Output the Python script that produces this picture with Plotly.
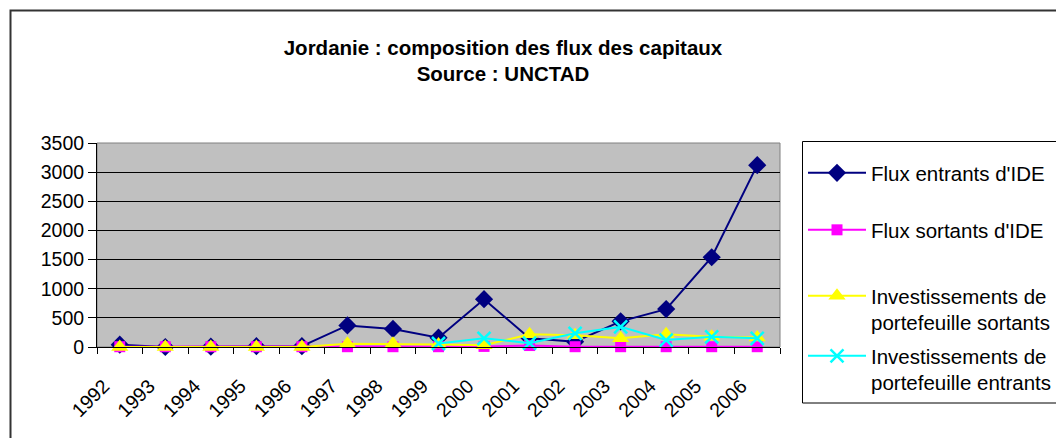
import plotly.graph_objects as go

years = [str(y) for y in range(1992, 2007)]

ide_entrants = [40, 0, 5, 15, 15, 370, 310, 160, 820, 150, 90, 440, 650, 1540, 3120]
ide_sortants = [5, 5, 5, 5, 5, 5, 5, 5, 10, 25, 5, 5, 5, 5, 5]
pf_sortants = [0, 0, 0, 0, 0, 55, 55, 45, 30, 220, 200, 150, 220, 175, 165]
pf_entrants = [None, None, None, None, None, None, None, 60, 150, 65, 235, 345, 120, 175, 150]

names = [
    "Flux entrants d'IDE",
    "Flux sortants d'IDE",
    "Investissements de<br>portefeuille sortants",
    "Investissements de<br>portefeuille entrants",
]

# the page body adds an 8px margin, so lay out in window pixels minus 8
OFF = 8
W, H = 1064 - OFF, 438 - OFF
L, R, T, B = 97 - OFF, 780 - OFF, 143 - OFF, 347 - OFF


def px_x(p):
    return (p - OFF - L) / (R - L)


def px_y(p):
    return (B - (p - OFF)) / (B - T)


FONT = "Liberation Sans, Arial, sans-serif"

fig = go.Figure()

series = [
    (ide_entrants, "#000080", dict(symbol="diamond", size=14, color="#000080")),
    (ide_sortants, "#FF00FF", dict(symbol="square", size=11, color="#FF00FF")),
    (pf_sortants, "#FFFF00", dict(symbol="triangle-up", size=15, color="#FFFF00")),
    (pf_entrants, "#00FFFF", dict(symbol="x-thin", size=13, line=dict(color="#00FFFF", width=2.5))),
]
legend_ids = ["legend", "legend2", "legend3", "legend4"]
legend_y = [173, 230, 309.5, 369.5]

for (vals, col, mk), name, lid in zip(series, names, legend_ids):
    fig.add_trace(go.Scatter(
        x=years, y=vals, name=name, mode="lines+markers",
        line=dict(color=col, width=2), marker=mk, legend=lid,
        cliponaxis=False,
    ))

legend_common = dict(
    x=px_x(803), xanchor="left", yanchor="middle",
    bgcolor="rgba(0,0,0,0)", borderwidth=0,
    font=dict(family=FONT, size=20.5, color="#000"),
    valign="top", itemwidth=58,
)

layout_legends = {}
for lid, ly in zip(legend_ids, legend_y):
    layout_legends[lid] = dict(legend_common, y=px_y(ly))

fig.update_layout(
    width=W, height=H,
    margin=dict(l=L, r=W - R, t=T, b=H - B, autoexpand=False),
    paper_bgcolor="white",
    plot_bgcolor="#C0C0C0",
    font=dict(family=FONT, size=19, color="#000"),
    title=dict(
        text="<b>Jordanie : composition des flux des capitaux<br>Source : UNCTAD</b>",
        x=(503 - OFF) / W, xanchor="center", y=1 - (54.5 - OFF) / H, yanchor="middle",
        font=dict(family=FONT, size=20.5, color="#000"),
    ),
    showlegend=True,
    **layout_legends,
)

fig.update_xaxes(
    type="category", range=[-0.5, 14.5],
    showgrid=False, showline=True, linecolor="#000", linewidth=1,
    ticks="outside", tickson="boundaries", ticklen=6, tickcolor="#000",
    tickangle=-45, ticklabelstandoff=19, ticklabelshift=-16,
    tickfont=dict(family=FONT, size=19.5),
)
fig.update_yaxes(
    range=[0, 3500], dtick=500,
    showgrid=True, gridcolor="#000", gridwidth=1,
    showline=True, linecolor="#000", linewidth=1,
    ticks="outside", ticklen=8, tickcolor="#000",
    tickfont=dict(family=FONT, size=19.5), zeroline=False,
)

# plot area border (grey), legend box, outer chart frame
fig.add_shape(type="rect", xref="paper", yref="paper", x0=0, x1=1, y0=0, y1=1,
              line=dict(color="#808080", width=1), layer="between")
fig.add_shape(type="rect", xref="paper", yref="paper",
              x0=px_x(802.5), x1=px_x(1075), y0=px_y(403), y1=px_y(141.5),
              line=dict(color="#000", width=1))
fig.add_shape(type="rect", xref="paper", yref="paper",
              x0=px_x(10.5), x1=px_x(1080), y0=px_y(450), y1=px_y(10.5),
              line=dict(color="#333", width=2))

fig.write_html("out.html")
